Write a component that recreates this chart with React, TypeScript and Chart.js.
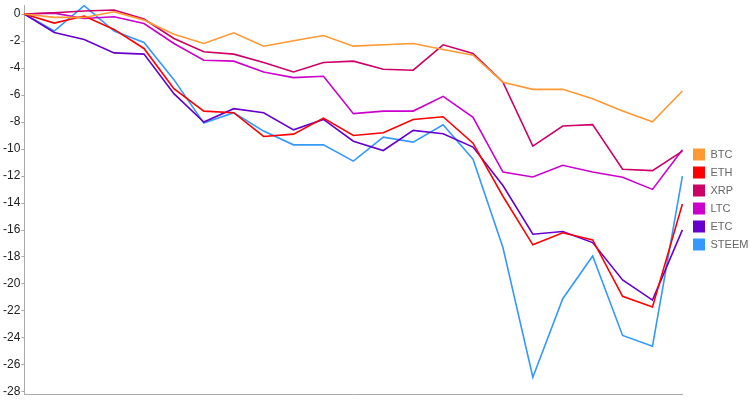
import React, { useEffect, useRef } from "react";
import { Chart, registerables } from "chart.js";

Chart.register(...registerables);

const labels: string[] = Array.from({ length: 23 }, (_, i) => String(i + 1));

const seriesNames = ["BTC", "ETH", "XRP", "LTC", "ETC", "STEEM"];
const seriesColors = ["#ff9933", "#ff0000", "#cc0066", "#cc00cc", "#6600cc", "#3399ff"];

const btc = [0, -0.25, -0.25, 0.17, -0.45, -1.49, -2.18, -1.39, -2.38, -1.98, -1.59, -2.38, -2.28, -2.18, -2.63, -3.05, -5.05, -5.58, -5.58, -6.27, -7.19, -7.98, -5.7];
const eth = [0, -0.67, -0.15, -1.14, -2.55, -5.53, -7.19, -7.31, -9.07, -8.9, -7.71, -9.0, -8.8, -7.81, -7.61, -9.57, -13.5, -17.1, -16.21, -16.73, -20.91, -21.71, -14.07];
const xrp = [0, 0.1, 0.22, 0.3, -0.37, -1.81, -2.8, -2.97, -3.59, -4.29, -3.59, -3.49, -4.09, -4.16, -2.28, -2.92, -5.05, -9.79, -8.3, -8.19, -11.5, -11.6, -10.16];
const ltc = [0, 0.07, -0.33, -0.2, -0.7, -2.18, -3.42, -3.49, -4.29, -4.71, -4.61, -7.38, -7.19, -7.19, -6.1, -7.65, -11.71, -12.07, -11.2, -11.7, -12.09, -12.99, -10.06];
const etc = [0, -1.37, -1.88, -2.88, -2.97, -5.9, -8.0, -7.01, -7.31, -8.58, -7.81, -9.42, -10.11, -8.62, -8.87, -9.86, -12.7, -16.31, -16.11, -16.93, -19.7, -21.19, -15.99];
const steem = [0, -1.26, 0.62, -1.26, -2.1, -4.86, -8.08, -7.31, -8.67, -9.69, -9.69, -10.9, -9.12, -9.49, -8.2, -10.75, -17.3, -26.91, -21.09, -17.92, -23.81, -24.61, -12.0];

const seriesValues = [btc, eth, xrp, ltc, etc, steem];

const yMin = -28.15;
const yMax = 0.67;
const yStep = 2;

export default function App() {
  const ref = useRef<HTMLCanvasElement | null>(null);

  useEffect(() => {
    if (!ref.current) return;
    Chart.defaults.font.family = "'Liberation Sans', Arial, Helvetica, sans-serif";
    const chart = new Chart(ref.current, {
      type: "line",
      data: {
        labels,
        datasets: seriesNames.map((name, i) => ({
          label: name,
          data: seriesValues[i],
          borderColor: seriesColors[i],
          backgroundColor: seriesColors[i],
          borderWidth: 1.6,
          pointRadius: 0,
          pointHoverRadius: 0,
          tension: 0,
          fill: false,
          yAxisID: "y",
        })),
      },
      options: {
        animation: false,
        responsive: false,
        events: [],
        layout: { padding: { top: 5, bottom: 6, left: 2, right: 2 } },
        plugins: {
          tooltip: { enabled: false },
          legend: {
            position: "right",
            align: "center",
            maxWidth: 61,
            labels: {
              boxWidth: 12,
              boxHeight: 12,
              padding: 6,
              color: "#666",
              font: { size: 11 },
              generateLabels: (c: any) =>
                (Chart.defaults.plugins.legend.labels as any)
                  .generateLabels(c)
                  .map((l: any) => ({ ...l, lineWidth: 0 })),
            },
          },
        },
        scales: {
          x: {
            type: "category",
            ticks: { display: false },
            grid: { display: false, drawTicks: false },
            border: { display: true, color: "#aaa", width: 1 },
          },
          y: {
            type: "linear",
            position: "left",
            min: yMin,
            max: yMax,
            ticks: {
              stepSize: yStep,
              includeBounds: false,
              color: "#222",
              font: { size: 12, lineHeight: 0.6 },
              padding: 1,
            },
            grid: {
              drawOnChartArea: false,
              drawTicks: true,
              tickLength: 3,
              color: "#aaa",
            },
            border: { display: true, color: "#aaa", width: 1 },
          },
          y1: {
            type: "linear",
            position: "right",
            display: true,
            ticks: { display: false },
            grid: { display: false, drawTicks: false },
            border: { display: false },
            afterFit: (s: any) => {
              s.width = 4.6;
            },
          },
        },
      } as any,
    });
    return () => chart.destroy();
  }, []);

  return (
    <div style={{ position: "absolute", left: 0, top: 0, width: 750, height: 400, background: "#fff" }}>
      <canvas ref={ref} width={750} height={400} style={{ display: "block" }} />
    </div>
  );
}
